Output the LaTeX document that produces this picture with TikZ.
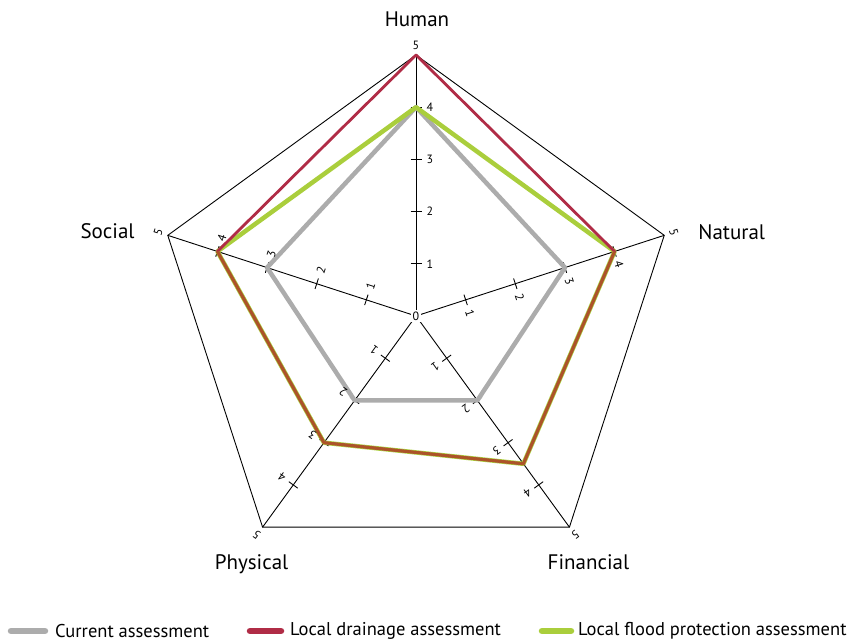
\documentclass[tikz,border=0pt]{standalone}
\usepackage{fontspec}
\setmainfont{PT Sans}
\usetikzlibrary{calc}
\definecolor{curgray}{RGB}{172,172,172}
\definecolor{drainred}{RGB}{176,44,70}
\definecolor{floodgreen}{RGB}{170,206,60}
\definecolor{bothbrown}{RGB}{172,84,40}
\tikzset{
    axis/.style={draw=black, line width=0.9pt},
    frame/.style={draw=black, line width=0.9pt, line join=miter},
    tickmark/.style={draw=black, line width=0.9pt},
    ticklabel/.style={
        font=\fontsize{12}{12}\selectfont,
        inner sep=0.5pt,
    },
    axisname/.style={font=\fontsize{21}{21}\selectfont, inner sep=0pt},
    current/.style={draw=curgray, line width=4.5pt, line join=round},
    drainage/.style={draw=drainred, line width=2.8pt, line join=round},
    flood/.style={draw=floodgreen, line width=4.5pt, line join=round},
    both/.style={draw=bothbrown, line width=2.8pt, line join=round},
    swatch/.style={line width=6.5pt, line cap=round},
    legendtext/.style={
        font=\fontsize{18.5}{18.5}\selectfont,
        anchor=west,
        inner sep=0pt
    }
}

\begin{document}
\begin{tikzpicture}[x=1pt,y=1pt]
    \useasboundingbox (0,0) rectangle (850,644);
    \coordinate (o) at (416,328);

    % axes and ticks
    \foreach \ax/\ang in {hum/90,nat/18,fin/-54,phy/-126,soc/162}{
        \coordinate (\ax5) at ($(o)+(\ang:261)$);
        \draw[axis] (o) -- (\ax5);
        \foreach \v in {1,...,4}{
            \coordinate (\ax\v) at ($(o)+(\ang:\v*52.2)$);
            \draw[tickmark] ($(\ax\v)+(\ang+90:5.5)$) -- ($(\ax\v)+(\ang-90:5.5)$);
        }
    }
    \coordinate (fin35) at ($(o)+(-54:3.5*52.2)$);

    % outer frame
    \draw[frame] (hum5) -- (nat5) -- (fin5) -- (phy5) -- (soc5) -- cycle;

    % assessments
    \draw[current] (hum4) -- (nat3) -- (fin2) -- (phy2) -- (soc3) -- cycle;
    \draw[flood] (hum4) -- (nat4) -- (fin35) -- (phy3) -- (soc4) -- cycle;
    \draw[drainage] (hum5) -- (nat4) -- (fin35) -- (phy3) -- (soc4) -- cycle;
    \draw[both] (nat4) -- (fin35) -- (phy3) -- (soc4);

    % tick labels
    \foreach \ax/\ang in {hum/90,nat/18,fin/-54,phy/-126,soc/162}{
        \foreach \v in {1,...,4}{
            \node[ticklabel, rotate=\ang-90] (\ax l\v) at ($(\ax\v)+(\ang-90:14)$) {\v};
        }
        \node[ticklabel, rotate=\ang-90] (\ax l5) at ($(o)+(\ang:271)$) {5};
    }
    \node[ticklabel, fill=white, inner sep=1.5pt] (zero) at (o) {0};

    % axis names
    \node[axisname, anchor=base] (human) at ($(hum5)+(1,28)$) {Human};
    \node[axisname, anchor=west] (natural) at ($(nat5)+(34,3)$) {Natural};
    \node[axisname, anchor=east] (social) at ($(soc5)+(-33,4)$) {Social};
    \node[axisname, anchor=base] (physical) at ($(phy5)+(-11,-42)$) {Physical};
    \node[axisname, anchor=base] (financial) at ($(fin5)+(19,-42)$) {Financial};

    % legend
    \coordinate (lg1a) at (11,13);  \coordinate (lg1b) at (45,13);
    \coordinate (lg2a) at (250,13); \coordinate (lg2b) at (281,13);
    \coordinate (lg3a) at (542,13); \coordinate (lg3b) at (571,13);
    \draw[swatch, curgray] (lg1a) -- (lg1b);
    \draw[swatch, drainred] (lg2a) -- (lg2b);
    \draw[swatch, floodgreen] (lg3a) -- (lg3b);
    \node[legendtext] (lgcur) at ($(lg1b)+(10,0)$) {Current assessment};
    \node[legendtext] (lgdrain) at ($(lg2b)+(9,0)$) {Local drainage assessment};
    \node[legendtext] (lgflood) at ($(lg3b)+(7,0)$) {Local flood protection assessment};
\end{tikzpicture}
\end{document}
